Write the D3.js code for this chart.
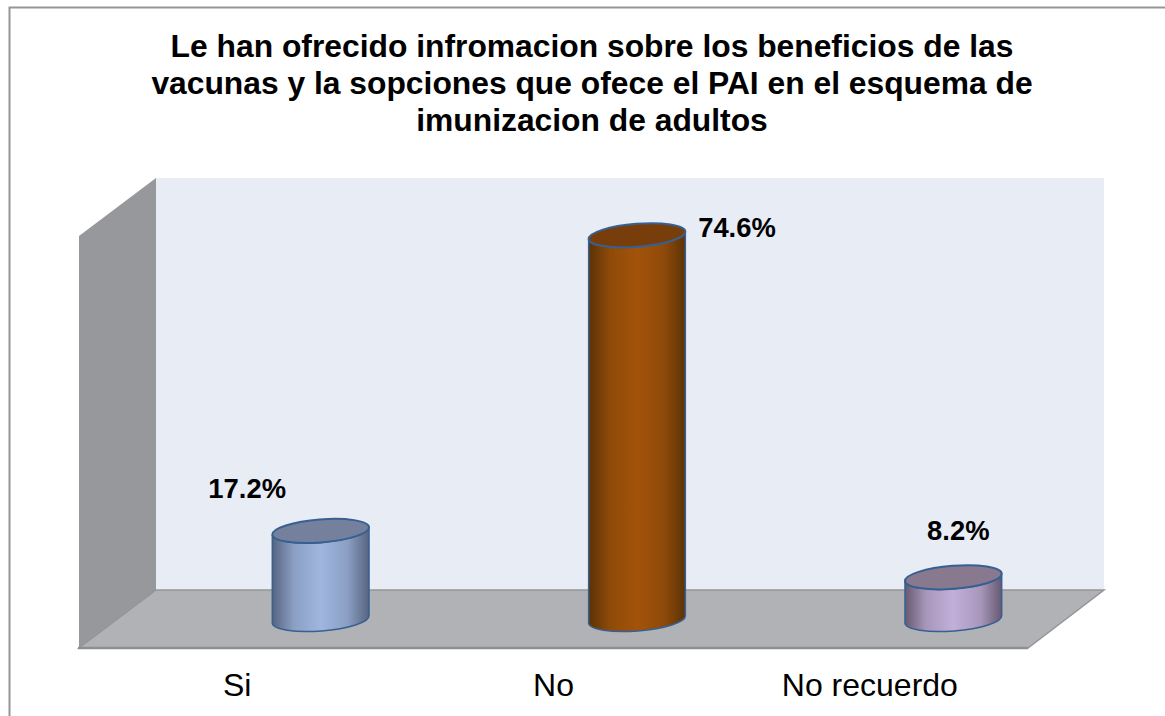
<!DOCTYPE html>
<meta charset="utf-8">
<style>
html,body{margin:0;padding:0;background:#fff;overflow:hidden;}
svg{display:block;}
text{font-family:"Liberation Sans",Arial,sans-serif;fill:#000;}
.title{font-size:31.8px;font-weight:bold;text-anchor:middle;}
.value{font-size:27.4px;font-weight:bold;text-anchor:middle;}
.axis text{font-size:32px;}
</style>
<body>
<script src="https://d3js.org/d3.v7.min.js"></script>
<script>

var width = 1165,
    height = 716;

var categories = ["Si", "No", "No recuerdo"];
var values = [17.2, 74.6, 8.2];
var valueLabels = ["17.2%", "74.6%", "8.2%"];
var titleLines = [
    "Le han ofrecido infromacion sobre los beneficios de las",
    "vacunas y la sopciones que ofece el PAI en el esquema de",
    "imunizacion de adultos"
];
// body edge, body middle, top ellipse
var barColors = [
    ["#56647f", "#9fb6de", "#74809c"],
    ["#5c3208", "#a3530a", "#773d0a"],
    ["#66596f", "#c2afd9", "#88798f"]
];
var labelOffsets = [[-73.5, -33], [100, 2], [5, -37]];

var frontLeft = 79, frontRight = 1028, frontY = 648,
    depthX = 77, depthY = 58,
    backTop = 178,
    backY = frontY - depthY,
    cylinderY = 619.5;

var svg = d3.select("body").append("svg")
    .attr("width", width)
    .attr("height", height);

var x = d3.scaleBand().domain(categories).range([frontLeft, frontRight]);
var y = d3.scaleLinear().domain([0, 80]).range([cylinderY, cylinderY - (backY - backTop)]);

var defs = svg.append("defs");
barColors.forEach(function(c, i) {
    var g = defs.append("linearGradient").attr("id", "body" + i);
    g.append("stop").attr("offset", "0%").attr("stop-color", c[0]);
    g.append("stop").attr("offset", "22%").attr("stop-color", d3.interpolateRgb(c[0], c[1])(0.72));
    g.append("stop").attr("offset", "50%").attr("stop-color", c[1]);
    g.append("stop").attr("offset", "78%").attr("stop-color", d3.interpolateRgb(c[0], c[1])(0.72));
    g.append("stop").attr("offset", "100%").attr("stop-color", c[0]);
});

// outer frame, only the top and left edges fall inside the picture
svg.append("rect")
    .attr("x", 9.5).attr("y", 7.5)
    .attr("width", 1200).attr("height", 760)
    .attr("fill", "#fff").attr("stroke", "#969696").attr("stroke-width", 2);

svg.append("g").selectAll("text")
    .data(titleLines)
    .enter().append("text")
    .attr("class", "title")
    .attr("x", 592)
    .attr("y", function(d, i) { return 57 + i * 37; })
    .text(function(d) { return d; });

// 3d walls
var line = d3.line();
svg.append("path")
    .attr("d", line([[frontLeft + depthX, backTop], [frontRight + depthX - 1, backTop], [frontRight + depthX - 1, backY], [frontLeft + depthX, backY]]) + "Z")
    .attr("fill", "#e8ecf5");
svg.append("path")
    .attr("d", line([[frontLeft, backTop + depthY], [frontLeft + depthX, backTop], [frontLeft + depthX, backY], [frontLeft, frontY]]) + "Z")
    .attr("fill", "#97989c");
svg.append("path")
    .attr("d", line([[frontLeft, frontY], [frontLeft + depthX, backY], [frontRight + depthX - 1, backY], [frontRight, frontY]]) + "Z")
    .attr("fill", "#b0b2b5")
    .attr("stroke", "#949597")
    .attr("stroke-width", 1.5);
svg.append("path")
    .attr("d", line([[frontLeft - 1, frontY], [frontRight, frontY]]))
    .attr("stroke", "#8e8f91")
    .attr("stroke-width", 2.5);

// cylinders
var rx = 48.5, ry = 11.5, tilt = -4.5;
var dx = rx * Math.cos(tilt * Math.PI / 180),
    dy = rx * Math.sin(tilt * Math.PI / 180);

var bars = svg.append("g").selectAll("g")
    .data(categories)
    .enter().append("g")
    .attr("transform", function(d) {
        return "translate(" + (x(d) + x.bandwidth() / 2 + 83.5) + ",0)";
    });

bars.append("path")
    .attr("d", function(d, i) {
        var top = y(values[i]), base = y(0);
        return "M" + (-dx) + "," + (top - dy) +
            "L" + (-dx) + "," + (base - dy) +
            "A" + rx + "," + ry + " " + tilt + " 0 0 " + dx + "," + (base + dy) +
            "L" + dx + "," + (top + dy) +
            "A" + rx + "," + ry + " " + tilt + " 0 1 " + (-dx) + "," + (top - dy) + "Z";
    })
    .attr("fill", function(d, i) { return "url(#body" + i + ")"; })
    .attr("stroke", "#376092")
    .attr("stroke-width", 1.5);

bars.append("ellipse")
    .attr("rx", rx).attr("ry", ry)
    .attr("transform", function(d, i) {
        return "translate(0," + y(values[i]) + ") rotate(" + tilt + ")";
    })
    .attr("fill", function(d, i) { return barColors[i][2]; })
    .attr("stroke", "#376092")
    .attr("stroke-width", 2);

bars.append("text")
    .attr("class", "value")
    .attr("x", function(d, i) { return labelOffsets[i][0]; })
    .attr("y", function(d, i) { return y(values[i]) + labelOffsets[i][1]; })
    .text(function(d, i) { return valueLabels[i]; });

// category axis
var axis = svg.append("g")
    .attr("class", "axis")
    .attr("transform", "translate(0,673.3)")
    .call(d3.axisBottom(x).tickSize(0).tickPadding(0));
axis.select(".domain").remove();
axis.selectAll("text").attr("fill", "#000").attr("dy", "0.71em");

</script>
</body>
